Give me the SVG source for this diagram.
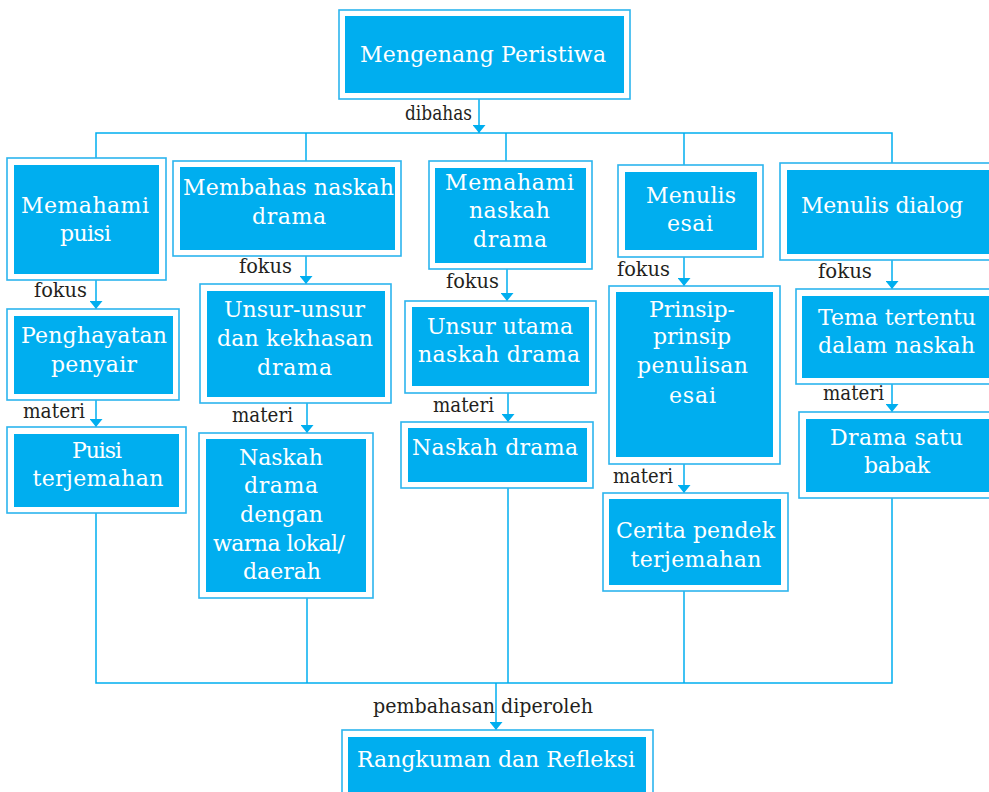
<svg xmlns="http://www.w3.org/2000/svg" width="989" height="792" viewBox="0 0 989 792">
<style>
.o{fill:#fff;stroke:#2CB5EE;stroke-width:1.6}
.i{fill:#00AEEF}
.t{font-family:'DejaVu Serif','Liberation Serif',serif;font-size:22px;fill:#fff;text-anchor:middle}
.l{font-family:'DejaVu Serif','Liberation Serif',serif;font-size:20px;fill:#231F20}
.c{stroke:#00AEEF;stroke-width:1.5;fill:none}
.a{stroke:#00AEEF;stroke-width:1.5;fill:none;marker-end:url(#ah)}
</style>
<defs>
<marker id="ah" markerUnits="userSpaceOnUse" markerWidth="8" markerHeight="13" viewBox="0 0 8 13" refX="8" refY="6.5" orient="auto">
<path d="M0,0 L8,6.5 L0,13 Z" fill="#00AEEF"/>
</marker>
</defs>
<rect width="989" height="792" fill="#fff"/>

<g id="connectors">
<line class="a" x1="479" y1="99" x2="479" y2="133"/>
<polyline class="c" points="96,158 96,133 892,133 892,163"/>
<line class="c" x1="306" y1="133" x2="306" y2="161"/>
<line class="c" x1="506" y1="133" x2="506" y2="161"/>
<line class="c" x1="684" y1="133" x2="684" y2="165"/>
<line class="a" x1="96" y1="280" x2="96" y2="309"/>
<line class="a" x1="96" y1="400" x2="96" y2="427"/>
<line class="a" x1="306" y1="256" x2="306" y2="284"/>
<line class="a" x1="307" y1="403" x2="307" y2="433"/>
<line class="a" x1="507" y1="269" x2="507" y2="301"/>
<line class="a" x1="508" y1="393" x2="508" y2="422"/>
<line class="a" x1="684" y1="257" x2="684" y2="286"/>
<line class="a" x1="684" y1="464" x2="684" y2="493"/>
<line class="a" x1="892" y1="260" x2="892" y2="289"/>
<line class="a" x1="892" y1="384" x2="892" y2="412"/>
<polyline class="c" points="96,513 96,683 892,683 892,498"/>
<line class="c" x1="307" y1="598" x2="307" y2="683"/>
<line class="c" x1="508" y1="488" x2="508" y2="683"/>
<line class="c" x1="684" y1="591" x2="684" y2="683"/>
<line class="a" x1="496" y1="683" x2="496" y2="730"/>
</g>

<g id="labels">
<text class="l" x="405" y="120" textLength="67" lengthAdjust="spacingAndGlyphs">dibahas</text>
<text class="l" x="34" y="297" textLength="53" lengthAdjust="spacingAndGlyphs">fokus</text>
<text class="l" x="23" y="418" textLength="62" lengthAdjust="spacingAndGlyphs">materi</text>
<text class="l" x="239" y="273" textLength="53" lengthAdjust="spacingAndGlyphs">fokus</text>
<text class="l" x="232" y="422" textLength="61" lengthAdjust="spacingAndGlyphs">materi</text>
<text class="l" x="446" y="288" textLength="53" lengthAdjust="spacingAndGlyphs">fokus</text>
<text class="l" x="433" y="412" textLength="61" lengthAdjust="spacingAndGlyphs">materi</text>
<text class="l" x="617" y="276" textLength="53" lengthAdjust="spacingAndGlyphs">fokus</text>
<text class="l" x="613" y="483" textLength="60" lengthAdjust="spacingAndGlyphs">materi</text>
<text class="l" x="818" y="278" textLength="54" lengthAdjust="spacingAndGlyphs">fokus</text>
<text class="l" x="823" y="400" textLength="61" lengthAdjust="spacingAndGlyphs">materi</text>
<text class="l" x="373" y="713" textLength="220" lengthAdjust="spacingAndGlyphs">pembahasan diperoleh</text>
</g>

<g id="n-top">
<rect class="o" x="339" y="10" width="291" height="89"/>
<rect class="i" x="345" y="16" width="279" height="77"/>
<text class="t" x="483" y="62" textLength="246">Mengenang Peristiwa</text>
</g>

<g id="n-memahami-puisi">
<rect class="o" x="7" y="158" width="159" height="122"/>
<rect class="i" x="14" y="165" width="145" height="109"/>
<text class="t" x="85" y="213" textLength="128">Memahami</text>
<text class="t" x="85.5" y="241" textLength="51">puisi</text>
</g>
<g id="n-penghayatan">
<rect class="o" x="7" y="309" width="172" height="91"/>
<rect class="i" x="14" y="316" width="159" height="78"/>
<text class="t" x="94" y="343" textLength="146">Penghayatan</text>
<text class="t" x="94" y="372" textLength="86">penyair</text>
</g>
<g id="n-puisi-terjemahan">
<rect class="o" x="7" y="427" width="179" height="86"/>
<rect class="i" x="14" y="434" width="165" height="73"/>
<text class="t" x="97" y="458" textLength="50">Puisi</text>
<text class="t" x="98" y="486" textLength="131">terjemahan</text>
</g>

<g id="n-membahas">
<rect class="o" x="173" y="161" width="228" height="95"/>
<rect class="i" x="180" y="167" width="215" height="83"/>
<text class="t" x="288.5" y="195" textLength="211">Membahas naskah</text>
<text class="t" x="289" y="224" textLength="74">drama</text>
</g>
<g id="n-unsur-unsur">
<rect class="o" x="200" y="284" width="191" height="119"/>
<rect class="i" x="207" y="291" width="178" height="106"/>
<text class="t" x="294.5" y="317" textLength="141">Unsur-unsur</text>
<text class="t" x="295" y="346" textLength="156">dan kekhasan</text>
<text class="t" x="294.5" y="375" textLength="75">drama</text>
</g>
<g id="n-naskah-lokal">
<rect class="o" x="199" y="433" width="174" height="165"/>
<rect class="i" x="206" y="439" width="160" height="153"/>
<text class="t" x="281" y="465" textLength="84">Naskah</text>
<text class="t" x="281" y="493" textLength="74">drama</text>
<text class="t" x="281.5" y="522" textLength="83">dengan</text>
<text class="t" x="279" y="551" textLength="132">warna lokal/</text>
<text class="t" x="282" y="579" textLength="78">daerah</text>
</g>

<g id="n-memahami-naskah">
<rect class="o" x="429" y="161" width="163" height="108"/>
<rect class="i" x="435" y="168" width="151" height="95"/>
<text class="t" x="509.5" y="190" textLength="129">Memahami</text>
<text class="t" x="509.5" y="218" textLength="81">naskah</text>
<text class="t" x="510" y="247" textLength="74">drama</text>
</g>
<g id="n-unsur-utama">
<rect class="o" x="405" y="301" width="191" height="92"/>
<rect class="i" x="412" y="307" width="177" height="79"/>
<text class="t" x="500" y="334" textLength="146">Unsur utama</text>
<text class="t" x="499" y="362" textLength="162">naskah drama</text>
</g>
<g id="n-naskah-drama">
<rect class="o" x="401" y="422" width="192" height="66"/>
<rect class="i" x="408" y="428" width="179" height="54"/>
<text class="t" x="495" y="455" textLength="166">Naskah drama</text>
</g>

<g id="n-menulis-esai">
<rect class="o" x="618" y="165" width="145" height="92"/>
<rect class="i" x="625" y="172" width="132" height="78"/>
<text class="t" x="691" y="203" textLength="90">Menulis</text>
<text class="t" x="690" y="231" textLength="46">esai</text>
</g>
<g id="n-prinsip">
<rect class="o" x="609" y="286" width="171" height="178"/>
<rect class="i" x="616" y="292" width="157" height="165"/>
<text class="t" x="692" y="317" textLength="86">Prinsip-</text>
<text class="t" x="692" y="344" textLength="78">prinsip</text>
<text class="t" x="692.5" y="373" textLength="111">penulisan</text>
<text class="t" x="692.5" y="403" textLength="47">esai</text>
</g>
<g id="n-cerpen">
<rect class="o" x="603" y="493" width="185" height="98"/>
<rect class="i" x="609" y="499" width="172" height="86"/>
<text class="t" x="695.5" y="538" textLength="159">Cerita pendek</text>
<text class="t" x="696" y="567" textLength="131">terjemahan</text>
</g>

<g id="n-menulis-dialog">
<rect class="o" x="780" y="163" width="230" height="97"/>
<rect class="i" x="787" y="170" width="220" height="84"/>
<text class="t" x="882" y="213" textLength="162">Menulis dialog</text>
</g>
<g id="n-tema">
<rect class="o" x="796" y="289" width="214" height="95"/>
<rect class="i" x="802" y="296" width="205" height="82"/>
<text class="t" x="897" y="325" textLength="158">Tema tertentu</text>
<text class="t" x="896.5" y="353" textLength="157">dalam naskah</text>
</g>
<g id="n-drama-satu">
<rect class="o" x="799" y="412" width="211" height="86"/>
<rect class="i" x="806" y="419" width="201" height="73"/>
<text class="t" x="896.5" y="445" textLength="133">Drama satu</text>
<text class="t" x="897" y="473" textLength="66">babak</text>
</g>

<g id="n-rangkuman">
<rect class="o" x="342" y="730" width="311" height="80"/>
<rect class="i" x="348" y="737" width="298" height="70"/>
<text class="t" x="496" y="767" textLength="278">Rangkuman dan Refleksi</text>
</g>
</svg>
